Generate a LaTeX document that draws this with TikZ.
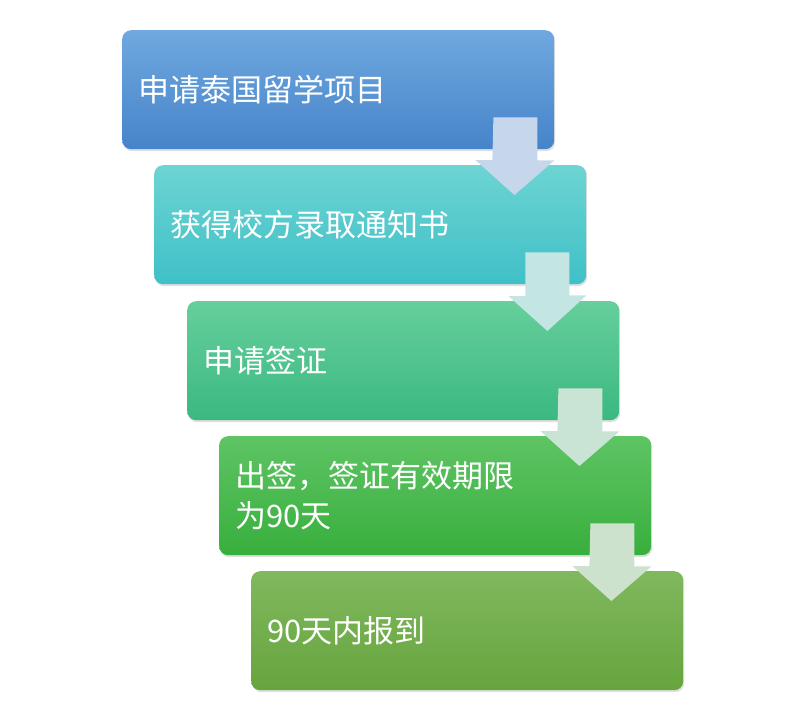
\documentclass[tikz,border=0pt]{standalone}
\usepackage{fontspec}
\setmainfont{Noto Sans CJK SC}
\usepackage{xcolor}
\usepackage{tikz}
\usetikzlibrary{calc,shadows}

\definecolor{skyTop}{HTML}{70A8DF}
\definecolor{skyBot}{HTML}{4684CA}
\definecolor{aquaTop}{HTML}{6DD4D3}
\definecolor{aquaBot}{HTML}{3FC0C7}
\definecolor{mintTop}{HTML}{66CF9C}
\definecolor{mintBot}{HTML}{3BB881}
\definecolor{leafTop}{HTML}{5EC464}
\definecolor{leafBot}{HTML}{38AF3D}
\definecolor{mossTop}{HTML}{80B85E}
\definecolor{mossBot}{HTML}{66A53D}
\definecolor{skyArr}{HTML}{C6D6EB}
\definecolor{aquaArr}{HTML}{C3E6E3}
\definecolor{mintArr}{HTML}{C9E3D4}
\definecolor{leafArr}{HTML}{CCE2CC}

\begin{document}
\begin{tikzpicture}[x=1pt, y=-1pt,
    box/.style={rounded corners=9pt, minimum width=432pt,
                minimum height=119pt, top color=#1Top, bottom color=#1Bot,
                text=white, font=\fontsize{31}{40}\selectfont,
                align=left, text width=400pt, inner xsep=16pt,
                anchor=north west,
                drop shadow={opacity=0.25, shadow xshift=1pt, shadow yshift=-2pt}},
    downarrow/.style={fill=#1, draw=none}
]
\useasboundingbox (0,0) rectangle (803,720);
\node[box=sky]  (apply)  at (122,30)  {申请泰国留学项目};
\node[box=aqua] (offer)  at (154,165) {获得校方录取通知书};
\node[box=mint] (visa)   at (187,301) {申请签证};
\node[box=leaf] (issued) at (219,436) {出签，签证有效期限\\为90天};
\node[box=moss] (report) at (251,571) {90天内报到};
% block arrows from one step to the next
\foreach \a/\b/\c in {apply/offer/skyArr, offer/visa/aquaArr,
                      visa/issued/mintArr, issued/report/leafArr}
  \fill[downarrow=\c] ($(\a.south east)+(-61,-32)$) -- ++(44,0) -- ++(0,43)
       -- ++(17,0) -- ($(\b.north east)+(-72,30)$) -- ++(-39,-35)
       -- ++(17,0) -- cycle;
\end{tikzpicture}
\end{document}
